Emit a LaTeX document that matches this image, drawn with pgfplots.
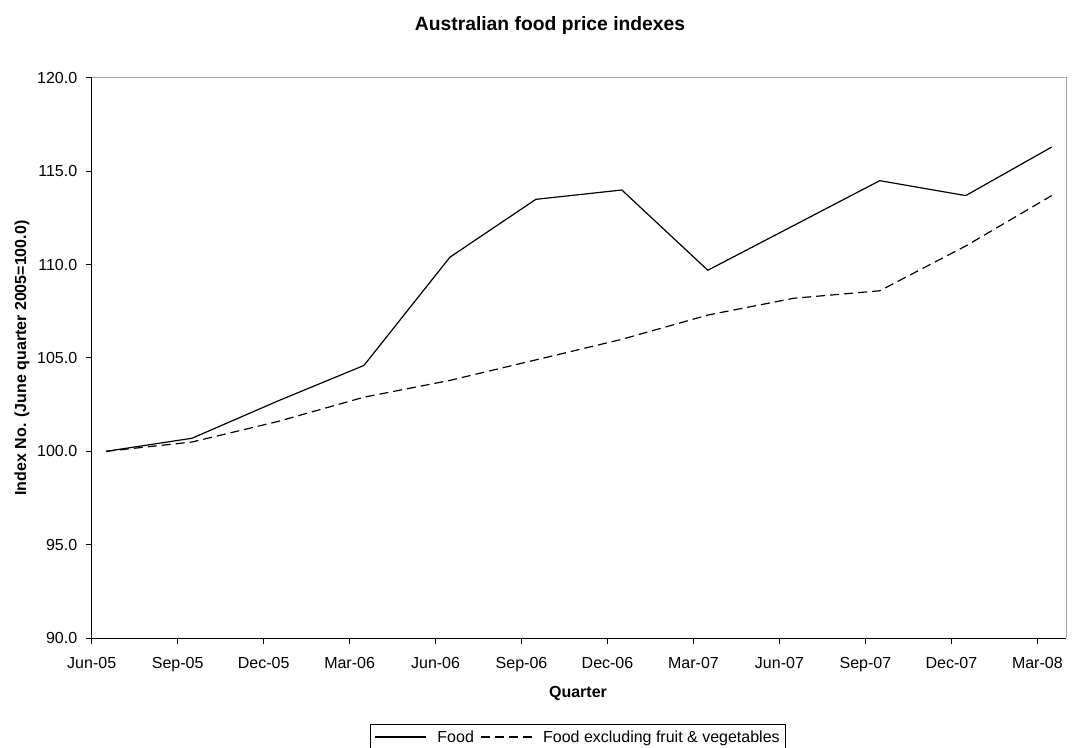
\documentclass[border=0pt]{standalone}
\usepackage{fontspec}
\setmainfont{Liberation Sans}
\usepackage{pgfplots}
\usepackage{pgfplotstable}
\pgfplotsset{compat=1.18}

% Quarterly index numbers (June quarter 2005 = 100.0); x in months from Jun-05,
% each value placed mid-month as on a monthly date axis
\pgfplotstableread{
x     food   exfv
0.5   100.0  100.0
3.5   100.7  100.5
6.5   102.7  101.6
9.5   104.6  102.9
12.5  110.4  103.8
15.5  113.5  104.9
18.5  114.0  106.0
21.5  109.7  107.3
24.5  112.1  108.2
27.5  114.5  108.6
30.5  113.7  111.0
33.5  116.3  113.7
}\foodtable

\newcommand{\labfont}{\fontsize{16}{19}\selectfont}

\begin{document}
\begin{tikzpicture}
\begin{axis}[
  name=ax,
  at={(91.7pt,109pt)}, anchor=south west,
  scale only axis, width=974.3pt, height=560pt,
  xmin=0, xmax=34, ymin=90, ymax=120,
  clip=false,
  axis line style={draw=none},
  xtick={0,3,...,33},
  xticklabels={Jun-05,Sep-05,Dec-05,Mar-06,Jun-06,Sep-06,Dec-06,Mar-07,Jun-07,Sep-07,Dec-07,Mar-08},
  ytick={90,95,...,120},
  xtick pos=bottom, ytick pos=left,
  tick align=outside, major tick length=6pt,
  tick style={black, line width=1pt},
  /pgf/number format/assume math mode=true,
  yticklabel style={/pgf/number format/.cd, fixed, fixed zerofill, precision=1,
                    /tikz/.cd, xshift=-5pt},
  xticklabel style={yshift=-10pt},
  tick label style={font=\labfont},
  title={Australian food price indexes},
  title style={at={(axis description cs:0.4704,1)}, anchor=center, yshift=46.5pt,
               font=\bfseries\fontsize{19.3}{23}\selectfont},
  xlabel={Quarter},
  xlabel style={at={(axis description cs:0.4991,0)}, anchor=center, yshift=-55pt,
                font=\bfseries\labfont},
  every axis y label/.style={at={(axis description cs:-0.0715,0.5)}, anchor=center,
                rotate=90, font=\bfseries\labfont},
  ylabel={Index No. (June quarter 2005=100.0)},
  legend columns=2,
  legend style={at={(axis description cs:0.4991,-0.1536)}, anchor=north,
                draw=black, line width=0.8pt, font=\labfont,
                inner xsep=4pt, inner ysep=4pt,
                /tikz/every even column/.append style={column sep=4pt},
                /tikz/every odd column/.append style={column sep=9pt}},
  legend image code/.code={\draw[#1] (0pt,0pt) -- (51pt,0pt);},
]
\addplot[black, line width=1.2pt] table[x=x, y=food] {\foodtable};
\addlegendentry{Food}
\addplot[black, line width=1.2pt, dash pattern=on 9pt off 5pt] table[x=x, y=exfv] {\foodtable};
\addlegendentry{Food excluding fruit \& vegetables}

% plot-area border: grey top and right, black value and category axes
\draw[gray!70, line width=1pt] (rel axis cs:0,1) -- (rel axis cs:1,1) -- (rel axis cs:1,0);
\draw[black, line width=1pt] (rel axis cs:0,1) -- (rel axis cs:0,0) -- (rel axis cs:1,0);
\end{axis}
\pgfresetboundingbox
\path[use as bounding box] (0pt,0pt) rectangle (1076pt,747pt);
\end{tikzpicture}
\end{document}
